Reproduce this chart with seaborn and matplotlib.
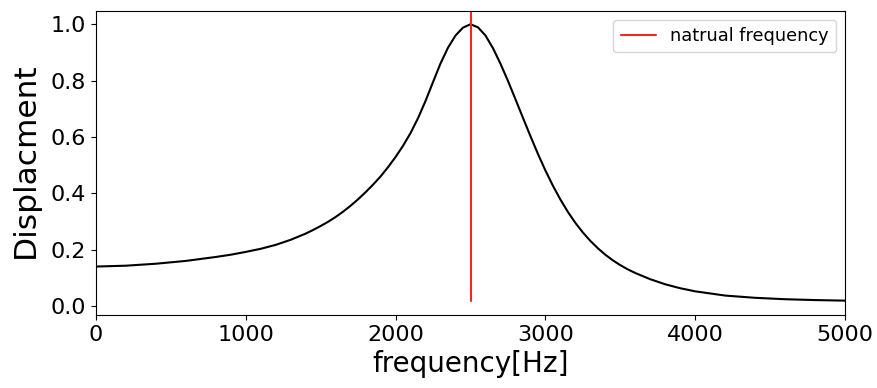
import matplotlib
matplotlib.use("Agg")
import matplotlib.pyplot as plt
import seaborn as sns
import pandas as pd

# Frequency response
frequency_hz = [0, 200, 400, 600, 800, 900, 1000, 1100, 1200, 1300, 1400,
                1450, 1500, 1550, 1600, 1650, 1700, 1750, 1800, 1850, 1900,
                1950, 2000, 2050, 2100, 2150, 2200, 2250, 2300, 2350, 2400,
                2450, 2500, 2550, 2600, 2650, 2700, 2750, 2800, 2850, 2900,
                2950, 3000, 3050, 3100, 3150, 3200, 3250, 3300, 3350, 3400,
                3450, 3500, 3550, 3600, 3700, 3800, 3900, 4000, 4200, 4400,
                4600, 4800, 5000]
displacement = [0.140, 0.143, 0.150, 0.160, 0.174, 0.182, 0.192, 0.203, 0.217,
                0.235, 0.257, 0.270, 0.284, 0.299, 0.316, 0.335, 0.356, 0.379,
                0.404, 0.431, 0.460, 0.493, 0.529, 0.569, 0.614, 0.667, 0.728,
                0.795, 0.861, 0.917, 0.960, 0.988, 1.000, 0.989, 0.960, 0.915,
                0.860, 0.799, 0.734, 0.668, 0.603, 0.540, 0.481, 0.427, 0.378,
                0.334, 0.295, 0.261, 0.231, 0.205, 0.182, 0.162, 0.145, 0.130,
                0.117, 0.095, 0.077, 0.063, 0.052, 0.037, 0.029, 0.024, 0.021,
                0.019]
natural_frequency = 2500
legend_label = "natrual frequency"

df = pd.DataFrame({"frequency": frequency_hz, "displacement": displacement})

sns.set_style("ticks", {"axes.edgecolor": "black", "text.color": "black",
                        "xtick.color": "black", "ytick.color": "black",
                        "axes.labelcolor": "black"})
plt.rcParams["font.family"] = ["DejaVu Sans"]
plt.rcParams["xtick.major.size"] = 3.5
plt.rcParams["ytick.major.size"] = 3.5
plt.rcParams["axes.linewidth"] = 0.8

fig = plt.figure(figsize=(8.78, 3.88), dpi=100)
ax = fig.add_axes([96 / 878, 1 - 315 / 388, (845 - 96) / 878, (315 - 11) / 388])

sns.lineplot(data=df, x="frequency", y="displacement", color="black",
             linewidth=1.5, ax=ax, sort=False)
ax.axvline(natural_frequency, ymin=0.046, ymax=1.0, color="#ee2a1e",
           linewidth=1.5, label=legend_label)

ax.set_xlim(0, 5000)
ax.set_ylim(-0.032, 1.047)
ax.set_yticks([0.0, 0.2, 0.4, 0.6, 0.8, 1.0])
ax.set_xticks([0, 1000, 2000, 3000, 4000, 5000])
ax.tick_params(labelsize=16)
ax.set_xlabel("frequency[Hz]", fontsize=20)
ax.set_ylabel("Displacment", fontsize=22.5)
ax.yaxis.set_label_coords(-0.0748, 0.51)
for s in ax.spines.values():
    s.set_visible(True)
ax.legend(loc="upper right", fontsize=12.8)

fig.savefig("out.png", dpi=100)
